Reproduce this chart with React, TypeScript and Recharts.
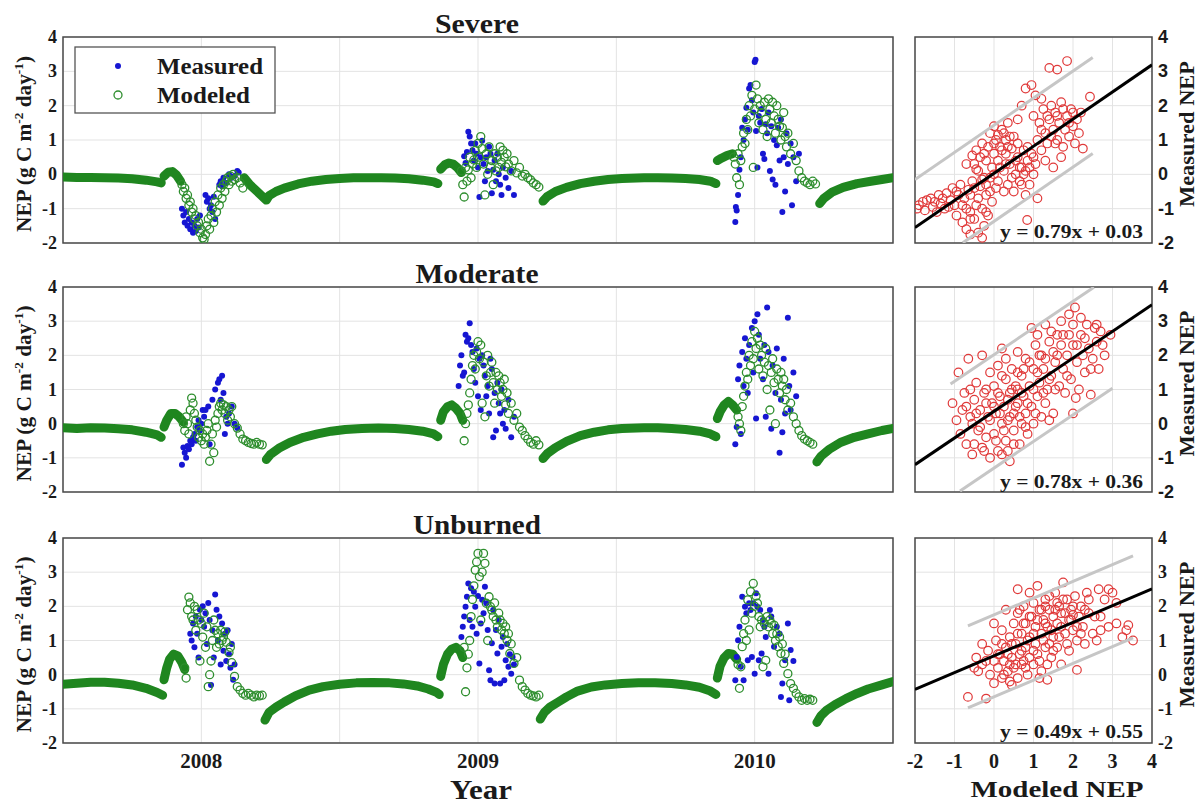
import React from 'react';
import { ScatterChart, Scatter, XAxis, YAxis, CartesianGrid, ReferenceArea } from 'recharts';

type P = [number, number];

// ---------- axes / labels ----------
const YEAR_TICKS = [2007.5, 2008, 2008.5, 2009, 2009.5, 2010, 2010.5];
const YEAR_LABELS = ['', '2008', '', '2009', '', '2010', ''];
const NEP_TICKS = [-2, -1, 0, 1, 2, 3, 4];
const SCAT_TICKS = [-2, -1, 0, 1, 2, 3, 4];
const PANEL_TITLES = ['Severe', 'Moderate', 'Unburned'];
const FIT_SLOPE = [0.79, 0.78, 0.49];
const FIT_INTERCEPT = [0.03, 0.36, 0.55];
const FIT_BAND = [1.4, 1.66, 1.2];
const BAND_UPPER_RANGE: P[] = [[-2, 2.5], [-1.1, 2.53], [-0.66, 3.52]];
const BAND_LOWER_RANGE: P[] = [[-0.79, 2.5], [-0.86, 3.0], [-0.66, 3.52]];

// ---------- Severe ----------
const severeBand: P[][] = [
  [[2007.5,-0.08],[2007.55,-0.09],[2007.6,-0.09],[2007.65,-0.1],[2007.7,-0.11],[2007.75,-0.13],[2007.8,-0.17],[2007.84,-0.22],[2007.855,-0.25]],
  [[2007.865,-0.05],[2007.88,0.06],[2007.895,0.08],[2007.91,-0.02],[2007.925,-0.2]],
  [[2008.155,-0.1],[2008.175,-0.3],[2008.195,-0.45],[2008.215,-0.6],[2008.235,-0.75],[2008.245,-0.62],[2008.27,-0.5],[2008.3,-0.4],[2008.35,-0.28],[2008.4,-0.2],[2008.45,-0.15],[2008.5,-0.12],[2008.55,-0.1],[2008.6,-0.1],[2008.65,-0.1],[2008.7,-0.11],[2008.75,-0.13],[2008.8,-0.17],[2008.84,-0.22],[2008.855,-0.27]],
  [[2008.865,0.15],[2008.88,0.28],[2008.895,0.33],[2008.91,0.3],[2008.925,0.2],[2008.94,0.05]],
  [[2009.235,-0.78],[2009.25,-0.65],[2009.28,-0.5],[2009.32,-0.38],[2009.37,-0.27],[2009.42,-0.2],[2009.47,-0.15],[2009.52,-0.12],[2009.6,-0.1],[2009.65,-0.1],[2009.7,-0.11],[2009.75,-0.12],[2009.8,-0.15],[2009.84,-0.2],[2009.86,-0.27]],
  [[2009.865,0.4],[2009.88,0.47],[2009.9,0.55],[2009.92,0.6]],
  [[2010.235,-0.85],[2010.25,-0.7],[2010.28,-0.52],[2010.32,-0.38],[2010.37,-0.27],[2010.42,-0.2],[2010.46,-0.15],[2010.5,-0.1]],
];
const severeModeled: P[] = [
  [2007.93,-0.3],[2007.935,-0.5],[2007.94,-0.4],[2007.945,-0.7],[2007.95,-0.6],[2007.955,-0.9],[2007.96,-0.8],[2007.965,-1.1],[2007.97,-1.0],[2007.975,-1.3],[2007.98,-1.2],[2007.985,-1.5],[2007.99,-1.4],[2007.995,-1.7],[2008.0,-1.6],[2008.005,-1.85],[2008.01,-1.9],[2008.015,-1.75],[2008.02,-1.5],[2008.025,-1.3],[2008.03,-1.6],[2008.035,-1.2],[2008.04,-1.0],[2008.045,-1.4],[2008.05,-0.8],[2008.055,-1.1],[2008.06,-0.6],[2008.065,-0.9],[2008.07,-0.4],[2008.075,-0.7],[2008.08,-0.3],[2008.085,-0.5],[2008.09,-0.2],[2008.095,-0.1],[2008.1,-0.3],[2008.105,-0.05],[2008.11,-0.2],[2008.115,0.0],[2008.12,-0.15],[2008.13,-0.1],[2008.14,-0.25],[2008.15,-0.4],
  [2008.94,0.1],[2008.945,-0.3],[2008.95,-0.66],[2008.955,0.2],[2008.96,-0.2],[2008.965,0.13],[2008.97,0.5],[2008.975,-0.1],[2008.98,0.3],[2008.985,0.42],[2008.99,0.7],[2008.995,0.2],[2009.0,0.9],[2009.005,0.5],[2009.01,1.1],[2009.015,0.75],[2009.02,0.3],[2009.025,-0.6],[2009.03,0.6],[2009.035,0.0],[2009.04,0.8],[2009.045,0.22],[2009.05,0.4],[2009.055,-0.3],[2009.06,0.6],[2009.065,0.1],[2009.07,0.5],[2009.075,0.2],[2009.08,0.8],[2009.085,0.35],[2009.09,0.7],[2009.095,0.5],[2009.1,0.22],[2009.105,0.6],[2009.11,0.3],[2009.12,0.1],[2009.13,0.4],[2009.14,0.04],[2009.15,0.2],[2009.16,-0.05],[2009.17,0.0],[2009.18,-0.1],[2009.19,-0.16],[2009.2,-0.25],[2009.21,-0.3],[2009.22,-0.37],
  [2009.925,0.5],[2009.93,0.3],[2009.935,-0.1],[2009.94,0.6],[2009.945,-0.3],[2009.95,0.4],[2009.955,0.8],[2009.96,1.2],[2009.965,0.9],[2009.97,1.6],[2009.975,1.3],[2009.98,2.0],[2009.985,1.7],[2009.99,2.3],[2009.995,0.2],[2010.0,1.9],[2010.005,2.6],[2010.01,2.2],[2010.015,1.5],[2010.02,2.0],[2010.025,1.8],[2010.03,1.3],[2010.035,2.1],[2010.04,1.6],[2010.045,1.1],[2010.05,2.2],[2010.055,1.9],[2010.06,1.5],[2010.065,2.1],[2010.07,1.7],[2010.075,1.2],[2010.08,2.0],[2010.085,1.6],[2010.09,1.4],[2010.095,1.0],[2010.1,1.36],[2010.105,1.8],[2010.11,1.1],[2010.115,0.8],[2010.12,1.2],[2010.13,0.6],[2010.14,0.9],[2010.15,0.4],[2010.16,0.1],[2010.17,-0.1],[2010.18,-0.2],[2010.19,-0.25],[2010.2,-0.3],[2010.21,-0.2],[2010.22,-0.28],
];
const severeMeasured: P[] = [
  [2007.93,-1.0],[2007.935,-1.2],[2007.94,-1.4],[2007.945,-1.1],[2007.95,-1.5],[2007.955,-1.3],[2007.96,-1.6],[2007.965,-1.4],[2007.97,-1.7],[2007.975,-1.5],[2007.98,-1.65],[2007.985,-1.3],[2007.99,-1.55],[2007.995,-1.2],[2008.015,-0.6],[2008.02,-0.8],[2008.025,-0.7],[2008.03,-1.0],[2008.035,-0.9],[2008.04,-1.1],[2008.045,-0.65],[2008.05,-1.3],[2008.065,-0.3],[2008.07,-0.2],[2008.075,-0.35],[2008.08,-0.1],[2008.09,-0.25],[2008.1,0.0],[2008.11,-0.1],[2008.12,-0.05],[2008.13,0.1],[2008.135,0.05],
  [2008.95,0.53],[2008.955,0.33],[2008.96,0.65],[2008.965,1.24],[2008.97,1.1],[2008.975,0.9],[2008.98,0.7],[2008.985,0.4],[2008.99,0.9],[2008.995,0.6],[2009.0,0.2],[2009.005,-0.66],[2009.01,0.5],[2009.015,0.98],[2009.02,0.3],[2009.025,-0.2],[2009.03,0.5],[2009.035,0.1],[2009.04,0.8],[2009.045,0.6],[2009.05,-0.55],[2009.055,0.13],[2009.06,0.4],[2009.065,-0.2],[2009.07,0.6],[2009.075,0.0],[2009.08,-0.3],[2009.085,-0.6],[2009.09,0.2],[2009.1,-0.1],[2009.11,-0.4],[2009.12,0.1],[2009.13,-0.6],
  [2009.93,-1.39],[2009.932,-0.95],[2009.935,-1.05],[2009.94,-0.6],[2009.945,0.13],[2009.95,0.5],[2009.955,1.36],[2009.96,1.0],[2009.965,1.6],[2009.97,1.94],[2009.975,1.3],[2009.98,2.5],[2009.985,2.6],[2009.99,2.16],[2009.995,1.8],[2010.0,3.27],[2010.003,3.34],[2010.005,1.26],[2010.01,0.2],[2010.015,1.7],[2010.02,1.5],[2010.025,1.9],[2010.03,0.6],[2010.035,0.45],[2010.04,1.46],[2010.045,1.2],[2010.05,1.8],[2010.055,0.1],[2010.06,1.4],[2010.065,-0.15],[2010.07,1.0],[2010.075,-0.3],[2010.08,0.85],[2010.085,1.36],[2010.09,0.4],[2010.095,1.6],[2010.1,-1.1],[2010.105,0.5],[2010.11,-0.5],[2010.115,1.2],[2010.12,0.3],[2010.13,0.9],[2010.135,-0.9],[2010.14,0.5],[2010.15,-0.2],[2010.16,0.6],
];

// ---------- Moderate ----------
const moderateBand: P[][] = [
  [[2007.5,-0.12],[2007.55,-0.14],[2007.6,-0.12],[2007.65,-0.13],[2007.7,-0.15],[2007.75,-0.18],[2007.8,-0.25],[2007.84,-0.33],[2007.855,-0.4]],
  [[2007.865,-0.1],[2007.875,0.1],[2007.89,0.3],[2007.905,0.3],[2007.92,0.2],[2007.935,0.05]],
  [[2008.235,-1.05],[2008.25,-0.9],[2008.28,-0.72],[2008.32,-0.55],[2008.37,-0.4],[2008.42,-0.3],[2008.47,-0.22],[2008.52,-0.17],[2008.58,-0.14],[2008.64,-0.13],[2008.7,-0.14],[2008.75,-0.17],[2008.8,-0.22],[2008.84,-0.3],[2008.855,-0.38]],
  [[2008.865,0.1],[2008.875,0.35],[2008.89,0.5],[2008.905,0.55],[2008.92,0.45],[2008.935,0.3],[2008.945,0.1]],
  [[2009.235,-1.02],[2009.25,-0.88],[2009.28,-0.7],[2009.32,-0.52],[2009.37,-0.35],[2009.42,-0.25],[2009.47,-0.18],[2009.52,-0.14],[2009.6,-0.12],[2009.65,-0.12],[2009.7,-0.14],[2009.75,-0.17],[2009.8,-0.22],[2009.84,-0.3],[2009.86,-0.38]],
  [[2009.865,0.15],[2009.875,0.35],[2009.89,0.55],[2009.905,0.65],[2009.92,0.55],[2009.935,0.4]],
  [[2010.225,-1.12],[2010.24,-0.95],[2010.27,-0.75],[2010.31,-0.55],[2010.36,-0.4],[2010.41,-0.3],[2010.46,-0.2],[2010.5,-0.14]],
];
const moderateModeled: P[] = [
  [2007.935,0.0],[2007.94,-0.2],[2007.945,0.2],[2007.95,0.0],[2007.955,-0.3],[2007.96,0.4],[2007.965,0.75],[2007.97,0.6],[2007.975,0.3],[2007.98,0.1],[2007.985,-0.1],[2007.99,-0.4],[2007.995,-0.2],[2008.0,-0.5],[2008.005,-0.3],[2008.01,-0.6],[2008.015,-0.4],[2008.02,-0.2],[2008.025,0.0],[2008.03,-1.1],[2008.035,-0.6],[2008.04,-0.3],[2008.045,-0.85],[2008.05,0.1],[2008.055,-0.1],[2008.06,0.3],[2008.065,0.5],[2008.07,0.6],[2008.075,0.4],[2008.08,0.55],[2008.085,0.3],[2008.09,0.5],[2008.095,0.1],[2008.1,0.4],[2008.105,0.2],[2008.11,0.5],[2008.12,0.0],[2008.13,-0.13],[2008.14,-0.3],[2008.15,-0.45],[2008.16,-0.5],[2008.17,-0.55],[2008.18,-0.58],[2008.19,-0.6],[2008.2,-0.55],[2008.21,-0.6],[2008.22,-0.62],
  [2008.95,-0.5],[2008.955,0.0],[2008.96,0.3],[2008.965,0.55],[2008.97,0.9],[2008.975,1.3],[2008.98,1.7],[2008.985,2.0],[2008.99,1.6],[2008.995,2.1],[2009.0,2.4],[2009.005,1.9],[2009.01,2.3],[2009.015,0.6],[2009.02,1.8],[2009.025,0.2],[2009.03,1.4],[2009.035,2.0],[2009.04,1.1],[2009.045,1.5],[2009.05,1.8],[2009.055,1.2],[2009.06,0.6],[2009.065,1.5],[2009.07,1.0],[2009.075,1.4],[2009.08,1.2],[2009.085,0.8],[2009.09,1.0],[2009.095,1.3],[2009.1,0.55],[2009.105,0.9],[2009.11,0.3],[2009.12,0.6],[2009.13,0.1],[2009.14,0.3],[2009.15,-0.1],[2009.16,-0.2],[2009.17,-0.35],[2009.18,-0.45],[2009.19,-0.55],[2009.2,-0.6],[2009.21,-0.5],[2009.22,-0.62],
  [2009.94,0.2],[2009.945,0.0],[2009.95,-0.2],[2009.955,0.5],[2009.96,0.8],[2009.965,1.1],[2009.97,1.5],[2009.975,1.3],[2009.98,2.0],[2009.985,1.7],[2009.99,2.4],[2009.995,1.9],[2010.0,2.7],[2010.005,2.2],[2010.01,2.5],[2010.015,1.6],[2010.02,2.3],[2010.025,2.0],[2010.03,1.4],[2010.035,1.8],[2010.04,2.2],[2010.045,1.0],[2010.05,1.7],[2010.055,0.4],[2010.06,1.5],[2010.065,1.9],[2010.07,1.2],[2010.075,0.0],[2010.08,1.6],[2010.085,1.3],[2010.09,0.9],[2010.095,1.5],[2010.1,1.1],[2010.105,1.3],[2010.11,0.7],[2010.115,1.0],[2010.12,0.4],[2010.13,0.6],[2010.14,0.2],[2010.15,0.0],[2010.16,-0.2],[2010.17,-0.35],[2010.18,-0.45],[2010.19,-0.5],[2010.2,-0.55],[2010.21,-0.6],
];
const moderateMeasured: P[] = [
  [2007.93,-1.2],[2007.935,-0.7],[2007.94,-0.85],[2007.945,-1.0],[2007.95,-0.65],[2007.955,-0.75],[2007.96,-0.5],[2007.965,-0.6],[2007.97,-0.4],[2007.975,-0.3],[2007.98,-0.5],[2007.985,-0.1],[2007.99,0.1],[2007.995,-0.2],[2008.0,0.0],[2008.005,0.4],[2008.01,0.2],[2008.015,0.4],[2008.025,0.5],[2008.03,-0.6],[2008.04,0.7],[2008.05,1.0],[2008.06,1.2],[2008.065,1.3],[2008.075,1.4],[2008.07,0.7],[2008.08,0.9],[2008.085,-0.3],[2008.09,0.2],[2008.095,0.0],[2008.1,0.3],[2008.11,0.5],[2008.12,0.0],[2008.13,-0.13],
  [2008.93,1.1],[2008.935,1.7],[2008.94,2.0],[2008.945,1.4],[2008.95,1.5],[2008.955,2.6],[2008.96,2.4],[2008.965,2.5],[2008.97,2.94],[2008.975,2.3],[2008.98,2.1],[2008.985,1.6],[2008.99,1.2],[2008.995,2.2],[2009.0,0.8],[2009.005,1.9],[2009.01,0.4],[2009.015,2.0],[2009.02,1.7],[2009.025,1.4],[2009.03,0.8],[2009.035,1.1],[2009.04,0.3],[2009.045,1.9],[2009.05,1.6],[2009.055,-0.4],[2009.06,0.9],[2009.065,-0.2],[2009.07,1.2],[2009.075,0.6],[2009.08,0.3],[2009.085,1.0],[2009.09,0.0],[2009.095,0.4],[2009.1,-0.15],[2009.11,0.7],[2009.12,-0.4],[2009.13,0.2],
  [2009.93,-0.6],[2009.935,-0.1],[2009.94,1.3],[2009.945,1.7],[2009.95,-0.3],[2009.955,2.1],[2009.96,1.1],[2009.965,2.5],[2009.97,1.9],[2009.975,0.9],[2009.98,2.3],[2009.99,2.8],[2009.995,1.5],[2010.0,3.0],[2010.005,0.15],[2010.01,3.2],[2010.015,2.6],[2010.02,1.9],[2010.03,1.3],[2010.035,2.3],[2010.04,0.2],[2010.045,3.4],[2010.05,2.1],[2010.06,-0.15],[2010.065,1.7],[2010.075,0.9],[2010.08,2.2],[2010.09,-0.85],[2010.095,0.7],[2010.1,-0.25],[2010.105,1.9],[2010.11,0.3],[2010.12,3.1],[2010.125,1.1],[2010.13,0.4],[2010.14,1.5],[2010.15,0.8],
];

// ---------- Unburned ----------
const unburnedBand: P[][] = [
  [[2007.5,-0.28],[2007.55,-0.25],[2007.6,-0.22],[2007.65,-0.22],[2007.7,-0.25],[2007.75,-0.3],[2007.8,-0.4],[2007.84,-0.52],[2007.86,-0.6]],
  [[2007.865,-0.15],[2007.875,0.2],[2007.885,0.45],[2007.9,0.6],[2007.915,0.55],[2007.93,0.35],[2007.94,0.15]],
  [[2008.23,-1.33],[2008.245,-1.1],[2008.27,-0.95],[2008.3,-0.8],[2008.34,-0.62],[2008.39,-0.45],[2008.44,-0.35],[2008.5,-0.28],[2008.56,-0.24],[2008.62,-0.23],[2008.68,-0.24],[2008.73,-0.27],[2008.78,-0.33],[2008.82,-0.42],[2008.85,-0.52],[2008.86,-0.58]],
  [[2008.865,-0.05],[2008.875,0.3],[2008.89,0.6],[2008.905,0.75],[2008.92,0.8],[2008.935,0.7],[2008.945,0.5]],
  [[2009.225,-1.3],[2009.24,-1.1],[2009.26,-0.95],[2009.29,-0.8],[2009.32,-0.65],[2009.36,-0.48],[2009.41,-0.36],[2009.46,-0.3],[2009.52,-0.26],[2009.58,-0.24],[2009.64,-0.24],[2009.7,-0.26],[2009.75,-0.3],[2009.8,-0.37],[2009.84,-0.48],[2009.86,-0.58]],
  [[2009.865,-0.1],[2009.875,0.25],[2009.89,0.5],[2009.905,0.62],[2009.92,0.6],[2009.935,0.45]],
  [[2010.225,-1.4],[2010.24,-1.2],[2010.26,-1.04],[2010.29,-0.88],[2010.33,-0.7],[2010.37,-0.55],[2010.41,-0.42],[2010.46,-0.3],[2010.5,-0.2]],
];
const unburnedModeled: P[] = [
  [2007.94,0.2],[2007.945,-0.1],[2007.95,1.9],[2007.955,2.27],[2007.96,2.1],[2007.965,1.7],[2007.97,1.6],[2007.975,2.0],[2007.98,1.3],[2007.985,1.9],[2007.99,1.6],[2007.995,0.4],[2008.0,1.5],[2008.005,1.1],[2008.01,1.8],[2008.015,0.8],[2008.02,1.4],[2008.025,-0.35],[2008.03,0.0],[2008.035,0.4],[2008.04,1.0],[2008.045,1.6],[2008.05,1.3],[2008.055,0.8],[2008.06,1.2],[2008.065,0.9],[2008.07,1.3],[2008.075,1.0],[2008.08,1.1],[2008.085,1.25],[2008.09,0.95],[2008.1,0.65],[2008.105,0.8],[2008.11,0.35],[2008.12,-0.05],[2008.13,-0.35],[2008.14,-0.45],[2008.15,-0.55],[2008.16,-0.6],[2008.17,-0.55],[2008.18,-0.6],[2008.19,-0.65],[2008.2,-0.6],[2008.21,-0.62],[2008.22,-0.6],
  [2008.95,0.8],[2008.955,-0.5],[2008.96,0.2],[2008.965,0.6],[2008.97,1.0],[2008.975,1.7],[2008.98,2.2],[2008.985,2.6],[2008.99,3.06],[2008.995,3.3],[2009.0,3.55],[2009.005,2.87],[2009.01,1.6],[2009.015,3.0],[2009.02,3.55],[2009.025,3.26],[2009.03,2.09],[2009.035,1.0],[2009.04,2.28],[2009.045,1.99],[2009.05,1.89],[2009.055,1.7],[2009.06,2.1],[2009.065,1.6],[2009.07,1.4],[2009.075,1.8],[2009.08,1.6],[2009.085,1.31],[2009.09,1.5],[2009.095,1.2],[2009.1,1.4],[2009.105,1.01],[2009.11,1.2],[2009.115,0.62],[2009.12,0.9],[2009.13,0.33],[2009.14,0.5],[2009.15,-0.16],[2009.16,-0.35],[2009.17,-0.45],[2009.18,-0.55],[2009.19,-0.6],[2009.2,-0.62],[2009.21,-0.65],[2009.22,-0.6],
  [2009.94,0.3],[2009.945,-0.4],[2009.95,0.23],[2009.955,0.82],[2009.96,1.2],[2009.965,1.6],[2009.97,1.0],[2009.975,2.19],[2009.98,1.31],[2009.985,2.43],[2009.99,1.8],[2009.995,2.67],[2010.0,2.0],[2010.005,2.3],[2010.01,2.09],[2010.015,1.7],[2010.02,1.4],[2010.025,1.6],[2010.03,0.23],[2010.035,1.5],[2010.04,0.42],[2010.045,1.7],[2010.05,1.4],[2010.055,1.6],[2010.06,1.5],[2010.065,1.2],[2010.07,1.45],[2010.075,1.0],[2010.08,1.2],[2010.085,0.82],[2010.09,1.1],[2010.095,0.62],[2010.1,0.9],[2010.105,0.33],[2010.11,0.6],[2010.12,0.03],[2010.13,-0.26],[2010.14,-0.4],[2010.15,-0.55],[2010.16,-0.65],[2010.17,-0.75],[2010.18,-0.7],[2010.19,-0.75],[2010.2,-0.72],[2010.21,-0.75],
];
const unburnedMeasured: P[] = [
  [2007.96,1.2],[2007.965,1.0],[2007.97,1.5],[2007.975,0.8],[2007.98,1.7],[2007.985,1.2],[2007.99,0.5],[2007.995,1.9],[2008.0,1.6],[2008.005,2.0],[2008.01,1.4],[2008.015,1.8],[2008.02,0.9],[2008.025,2.1],[2008.03,1.6],[2008.035,-0.3],[2008.04,1.3],[2008.045,0.5],[2008.05,2.35],[2008.055,1.9],[2008.06,1.0],[2008.065,1.7],[2008.07,0.3],[2008.075,1.5],[2008.08,0.7],[2008.085,1.2],[2008.09,0.4],[2008.095,1.3],[2008.1,0.6],[2008.105,0.2],[2008.11,0.9],[2008.115,-0.15],[2008.12,0.3],
  [2008.94,1.1],[2008.945,1.4],[2008.95,1.7],[2008.955,1.99],[2008.96,2.28],[2008.965,2.67],[2008.97,1.6],[2008.975,2.53],[2008.98,1.4],[2008.985,2.43],[2008.99,1.99],[2008.995,1.2],[2009.0,2.3],[2009.005,0.33],[2009.01,1.5],[2009.015,2.19],[2009.02,1.8],[2009.025,2.57],[2009.03,2.09],[2009.035,1.31],[2009.04,0.13],[2009.045,-0.16],[2009.05,0.92],[2009.055,1.89],[2009.06,-0.26],[2009.065,1.31],[2009.07,0.62],[2009.075,1.6],[2009.08,-0.26],[2009.085,0.82],[2009.09,1.1],[2009.095,-0.16],[2009.1,0.42],[2009.105,0.9],[2009.11,0.23],[2009.115,0.6],[2009.12,0.03],[2009.125,0.52],[2009.13,0.3],
  [2009.93,-0.16],[2009.935,0.52],[2009.94,1.01],[2009.945,1.4],[2009.95,0.23],[2009.955,2.28],[2009.96,-0.16],[2009.965,1.99],[2009.97,1.8],[2009.975,0.42],[2009.98,2.09],[2009.985,1.89],[2009.99,0.52],[2009.995,2.09],[2010.0,0.03],[2010.005,2.38],[2010.01,1.99],[2010.015,0.42],[2010.02,1.89],[2010.025,0.62],[2010.03,1.6],[2010.035,1.4],[2010.04,1.1],[2010.05,0.03],[2010.055,1.89],[2010.06,1.7],[2010.07,0.82],[2010.08,1.4],[2010.09,1.2],[2010.095,-0.65],[2010.1,-0.26],[2010.11,0.42],[2010.12,1.5],[2010.125,-0.75],[2010.13,0.72],[2010.14,0.4],
];

// ---------- Modeled vs measured scatter ----------
const severeScatter: P[] = [
  [-1.95,-1.0],[-1.8,-0.8],[-1.75,-1.05],[-1.6,-0.7],[-1.55,-0.95],[-1.45,-1.1],[-1.4,-0.6],[-1.35,-0.85],[-1.25,-1.0],[-1.2,-0.55],[-1.1,-0.75],[-1.05,-0.4],[-1.0,-0.9],[-0.95,-1.2],[-0.9,-0.6],[-0.85,-0.3],[-0.8,-1.4],[-0.75,-0.7],[-0.7,-1.6],[-0.65,-0.45],[-0.6,-1.1],[-0.55,-0.2],[-0.5,-1.3],[-0.45,-0.9],[-0.4,-1.7],[-0.35,-0.35],[-0.3,-1.0],[-0.25,-1.5],[-0.2,-0.6],[-0.15,-1.2],[-0.1,-0.1],[-0.05,-0.8],[-0.3,-1.85],[-0.6,-1.75],
  [-0.5,0.3],[-0.45,0.7],[-0.4,0.1],[-0.35,0.5],[-0.3,0.9],[-0.25,-0.1],[-0.2,0.4],[-0.15,0.8],[-0.1,1.2],[-0.05,0.2],[0.0,0.6],[0.05,1.0],[0.1,-0.2],[0.1,0.4],[0.15,0.8],[0.2,1.3],[0.25,0.1],[0.3,0.6],[0.3,1.0],[0.35,-0.3],[0.4,0.3],[0.45,0.75],[0.5,1.1],[0.5,-0.5],[0.55,0.0],[0.6,0.5],[0.65,-0.2],[0.7,0.2],[0.75,0.7],[0.8,-0.6],[0.8,0.1],[0.85,0.4],[0.9,-0.3],[0.95,0.6],[1.0,0.0],[1.05,0.3],[1.1,-0.7],[0.84,-1.33],[-0.55,0.55],[-0.7,0.3],[0.0,1.4],[0.35,1.5],
  [0.7,2.0],[0.8,2.5],[0.95,2.6],[1.05,2.3],[1.0,1.7],[0.6,1.6],[1.4,3.1],[1.6,3.05],[1.85,3.3],
  [1.1,1.0],[1.15,1.5],[1.2,0.7],[1.25,1.9],[1.3,1.2],[1.35,0.9],[1.4,1.6],[1.45,2.0],[1.5,0.2],[1.5,1.3],[1.55,1.8],[1.6,1.0],[1.65,1.5],[1.7,2.1],[1.75,0.8],[1.8,1.3],[1.85,1.7],[1.9,1.1],[1.95,1.9],[2.0,1.4],[2.05,0.9],[2.1,1.6],[2.15,1.2],[2.2,1.8],[2.25,0.75],[2.43,2.26],[1.3,0.4],[1.7,0.5],[1.2,2.2],
  [-1.9,-0.9],[-1.7,-0.75],[-1.5,-0.8],[-1.3,-0.7],[-1.15,-0.95],[-0.95,-0.5],[-0.8,-0.9],[-0.6,-0.6],[-0.5,-0.4],[-0.4,-0.7],[-0.3,-0.15],[-0.2,-0.3],[-0.1,-0.5],[0.0,0.0],[0.0,0.9],[0.05,-0.4],[0.15,0.2],[0.2,0.7],[0.25,-0.5],[0.3,0.3],[0.35,0.8],[0.4,1.1],[0.45,-0.1],[0.55,0.4],[0.6,0.9],[0.65,0.2],[0.7,-0.3],[0.75,0.0],[0.85,0.8],[0.9,0.2],[1.0,0.5],[1.2,1.3],[1.35,1.7],[1.45,1.1],[1.6,1.7],[1.75,1.9],[1.9,1.5],[2.0,1.8],[1.55,0.9],[-0.25,0.6],[-0.45,0.15],[0.1,1.15],[0.25,1.2],[-0.6,-1.3],[-0.2,-1.1],[-0.7,-1.0],
];
const moderateScatter: P[] = [
  [-1.05,0.6],[-0.95,0.1],[-0.9,1.5],[-0.85,-0.3],[-0.8,0.4],[-0.75,0.9],[-0.7,-0.6],[-0.65,1.9],[-0.6,0.2],[-0.55,-0.9],[-0.5,0.7],[-0.45,1.2],[-0.4,-0.2],[-0.35,0.4],[-0.3,-0.7],[-0.3,2.0],[-0.25,0.9],[-0.2,-0.4],[-0.15,0.2],[-0.1,1.5],[-0.1,-1.0],[-0.05,0.6],[0.0,-0.3],[0.0,1.1],[0.05,0.3],[0.1,-0.8],[0.1,1.7],[0.15,0.8],[0.2,0.0],[0.2,2.2],[0.25,0.5],[0.3,-0.5],[0.3,1.3],[0.35,0.1],[0.4,0.9],[0.4,-1.1],[0.45,1.6],[0.5,0.3],[0.5,-0.2],[0.55,1.1],[0.6,0.6],[0.6,2.1],[0.65,-0.6],[0.7,0.0],[0.7,1.4],[0.75,0.8],[0.8,0.3],[0.8,1.9],[0.85,-0.3],[0.9,1.1],[0.95,0.5],[0.95,2.8],[1.0,0.0],[1.0,1.6],[1.05,2.3],[1.1,0.8],[1.1,2.6],[1.15,1.2],[1.2,0.2],[1.2,2.0],[1.25,1.6],[1.3,2.9],[1.3,0.6],[1.35,1.0],[1.4,2.4],[1.45,1.4],[1.5,2.1],[1.5,0.3],[1.55,1.8],[1.6,2.6],[1.65,1.1],[1.7,2.3],[1.7,3.0],[1.75,1.6],[1.8,0.9],[1.85,2.0],[1.9,2.6],[1.9,3.2],[1.95,1.3],[2.0,2.3],[2.05,3.4],[2.1,1.8],[2.15,1.0],[2.2,2.6],[2.25,2.0],[2.3,1.5],[2.35,2.9],[2.4,2.2],[2.45,0.85],[2.5,1.9],[2.55,2.8],[2.6,2.4],[2.65,1.6],[2.7,2.7],[2.8,2.0],[2.95,2.6],[1.4,0.1],[2.0,0.3],[-0.2,1.0],[0.3,1.9],[0.6,1.0],[0.2,-0.9],[-0.5,-0.6],[2.2,3.1],[2.07,0.75],
  [-0.7,0.5],[-0.55,0.0],[-0.45,0.3],[-0.35,-0.1],[-0.2,0.6],[-0.1,0.1],[0.0,0.5],[0.05,-0.5],[0.1,0.9],[0.15,0.3],[0.2,1.4],[0.25,-0.2],[0.35,0.7],[0.4,0.2],[0.45,1.0],[0.5,-0.6],[0.55,0.5],[0.65,0.2],[0.7,0.9],[0.75,1.6],[0.8,-0.1],[0.85,0.6],[0.9,1.8],[1.0,1.0],[1.05,0.3],[1.1,1.5],[1.15,2.0],[1.25,0.9],[1.3,1.9],[1.4,1.3],[1.45,2.7],[1.55,1.0],[1.6,2.0],[1.75,2.6],[1.85,1.4],[2.0,2.9],[2.1,2.3],[2.3,2.5],[2.45,1.6],[2.6,2.9],[2.75,2.3],[-0.6,1.0],[0.6,1.5],[0.35,-0.8],[-0.25,-0.8],
];
const unburnedScatter: P[] = [
  [-0.66,-0.65],[-0.45,0.5],[-0.4,0.1],[-0.3,0.3],[-0.2,-0.7],[-0.15,0.7],[-0.1,0.0],[0.0,0.4],[0.0,-0.25],[0.05,1.0],[0.1,0.2],[0.15,0.6],[0.2,-0.1],[0.2,1.3],[0.25,0.4],[0.3,0.8],[0.3,1.9],[0.35,0.1],[0.4,1.1],[0.4,-0.2],[0.45,0.5],[0.5,1.5],[0.5,0.2],[0.55,0.9],[0.6,-0.1],[0.6,1.8],[0.65,0.6],[0.7,1.2],[0.7,0.3],[0.75,2.0],[0.8,0.8],[0.8,1.5],[0.85,0.0],[0.9,1.1],[0.9,0.5],[0.95,1.7],[1.0,0.3],[1.0,2.1],[1.05,0.9],[1.05,1.4],[1.1,2.6],[1.1,0.6],[1.15,1.9],[1.2,1.2],[1.2,0.1],[1.25,1.6],[1.3,0.8],[1.3,2.2],[1.35,-0.15],[1.35,1.4],[1.4,1.9],[1.45,0.5],[1.5,1.7],[1.5,1.1],[1.55,2.4],[1.6,0.8],[1.6,1.5],[1.65,2.0],[1.7,0.3],[1.7,1.8],[1.75,2.7],[1.8,1.2],[1.85,2.2],[1.9,0.7],[1.9,1.6],[1.95,1.9],[2.0,1.3],[2.05,2.3],[2.1,1.0],[2.1,0.14],[2.15,1.7],[2.2,2.0],[2.25,1.4],[2.3,0.9],[2.35,2.4],[2.4,1.8],[2.5,1.2],[2.6,1.0],[2.65,2.5],[2.7,1.7],[2.8,2.2],[2.9,1.4],[3.0,2.4],[3.1,1.5],[3.25,1.1],[3.35,1.3],[3.52,1.0],[3.4,1.45],[0.6,2.5],[1.3,2.0],[0.0,1.5],[-0.3,0.9],[0.9,2.4],[1.15,-0.1],[0.45,-0.3],[0.2,0.9],[1.65,1.1],[2.0,1.75],[1.4,0.9],[0.75,0.4],
  [-0.5,0.2],[-0.2,0.4],[0.1,0.6],[0.25,0.0],[0.35,0.6],[0.45,0.9],[0.55,0.3],[0.6,1.2],[0.7,0.7],[0.75,1.5],[0.8,0.2],[0.85,1.0],[0.9,1.7],[1.0,0.7],[1.0,1.2],[1.1,1.6],[1.15,0.4],[1.2,1.9],[1.25,1.0],[1.3,1.5],[1.4,2.3],[1.45,1.3],[1.5,0.7],[1.55,1.9],[1.6,2.1],[1.7,1.4],[1.75,2.2],[1.8,1.8],[1.85,0.9],[1.95,1.6],[2.0,2.0],[2.1,1.4],[2.2,1.2],[2.3,1.9],[2.4,2.2],[2.55,1.7],[2.7,1.3],[2.9,2.5],[3.1,2.1],[0.4,0.3],[0.65,1.9],[1.35,0.3],
];

// ---------- styling ----------
const SERIF = '"Liberation Serif", "Times New Roman", serif';
const SANS = '"Liberation Sans", Arial, sans-serif';
const INK = '#1a1a1a';
const GRID = '#e3e3e3';
const BOX = '#4a4a4a';
const GREEN_BAND = '#1f861f';
const GREEN_CIRCLE = '#2e8e2e';
const BLUE = '#1616d2';
const RED = '#e03a3a';
const PAD = 15;

const toXY = (a: P[]) => a.map(([x, y]) => ({ x, y }));

const Empty = () => <g />;
const BlueDot = (p: any) => <circle cx={p.cx} cy={p.cy} r={3} fill={BLUE} />;
const GreenCircle = (p: any) => (
  <circle cx={p.cx} cy={p.cy} r={4} fill="none" stroke={GREEN_CIRCLE} strokeWidth={1.3} />
);
const RedCircle = (p: any) => (
  <circle cx={p.cx} cy={p.cy} r={4.3} fill="none" stroke={RED} strokeWidth={1.2} />
);

const makeYearTick = (show: boolean) => (p: any) => {
  const i = YEAR_TICKS.indexOf(p.payload.value);
  const label = show ? YEAR_LABELS[i] || '' : '';
  return (
    <text x={p.x} y={p.y} dy={15} textAnchor="middle" fontFamily={SERIF} fontWeight={700} fontSize={21} fill={INK}>
      {label}
    </text>
  );
};
const LeftTick = (p: any) => (
  <text x={p.x} y={p.y} dy={6} textAnchor="end" fontFamily={SERIF} fontWeight={700} fontSize={18} fill={INK}>
    {p.payload.value}
  </text>
);
const makeRightTick = (sans: boolean) => (p: any) => (
  <text x={p.x} y={p.y} dy={6} textAnchor="start" fontFamily={sans ? SANS : SERIF} fontWeight={700} fontSize={18} fill={INK}>
    {p.payload.value}
  </text>
);
const makeScatXTick = (show: boolean) => (p: any) => (
  <text x={p.x} y={p.y} dy={15} textAnchor="middle" fontFamily={SERIF} fontWeight={700} fontSize={20} fill={INK}>
    {show ? p.payload.value : ''}
  </text>
);

function TimePanel({ top, h, band, modeled, measured, showX }: any) {
  return (
    <div style={{ position: 'absolute', left: 0, top: top - PAD }}>
      <ScatterChart width={900} height={h + PAD + 32} margin={{ top: PAD, right: 7, left: 0, bottom: 2 }}>
        <CartesianGrid stroke={GRID} strokeWidth={1} />
        <XAxis type="number" dataKey="x" domain={[2007.5, 2010.5]} ticks={YEAR_TICKS} interval={0}
          allowDataOverflow axisLine={false} tickLine={false} tickSize={0} tickMargin={10} height={30}
          tick={makeYearTick(showX)} />
        <YAxis type="number" dataKey="y" domain={[-2, 4]} ticks={NEP_TICKS} interval={0}
          allowDataOverflow axisLine={false} tickLine={false} tickSize={0} tickMargin={6} width={63}
          tick={LeftTick} />
        {band.map((seg: P[], i: number) => (
          <Scatter key={'band' + i} data={toXY(seg)} shape={Empty} isAnimationActive={false}
            line={{ stroke: GREEN_BAND, strokeWidth: 9, fill: 'none', strokeLinecap: 'round', strokeLinejoin: 'round' }}
            lineType="joint" />
        ))}
        <Scatter data={toXY(measured)} shape={BlueDot} isAnimationActive={false} />
        <Scatter data={toXY(modeled)} shape={GreenCircle} isAnimationActive={false} />
        <ReferenceArea x1={2007.5} x2={2010.5} y1={-2} y2={4} fill="none" fillOpacity={0} stroke={BOX} strokeWidth={1.5} />
      </ScatterChart>
    </div>
  );
}

function FitPanel({ top, h, pts, idx, showX, sans }: any) {
  const s = FIT_SLOPE[idx];
  const b = FIT_INTERCEPT[idx];
  const d = FIT_BAND[idx];
  const fit = [SCAT_TICKS[0], SCAT_TICKS[SCAT_TICKS.length - 1]].map((x) => ({ x, y: s * x + b }));
  const up = BAND_UPPER_RANGE[idx].map((x) => ({ x, y: s * x + b + d }));
  const lo = BAND_LOWER_RANGE[idx].map((x) => ({ x, y: s * x + b - d }));
  return (
    <div style={{ position: 'absolute', left: 905, top: top - PAD }}>
      <ScatterChart width={295} height={h + PAD + 32} margin={{ top: PAD, right: 0, left: 10, bottom: 2 }}>
        <CartesianGrid stroke={GRID} strokeWidth={1} />
        <XAxis type="number" dataKey="x" domain={[-2, 4]} ticks={SCAT_TICKS} interval={0}
          allowDataOverflow axisLine={false} tickLine={false} tickSize={0} tickMargin={10} height={30}
          tick={makeScatXTick(showX)} />
        <YAxis type="number" dataKey="y" orientation="right" domain={[-2, 4]} ticks={SCAT_TICKS} interval={0}
          allowDataOverflow axisLine={false} tickLine={false} tickSize={0} tickMargin={6} width={48}
          tick={makeRightTick(sans)} />
        <Scatter data={toXY(pts)} shape={RedCircle} isAnimationActive={false} />
        <Scatter data={up} shape={Empty} isAnimationActive={false} line={{ stroke: '#c6c6c6', strokeWidth: 3, fill: 'none' }} lineType="joint" />
        <Scatter data={lo} shape={Empty} isAnimationActive={false} line={{ stroke: '#c6c6c6', strokeWidth: 3, fill: 'none' }} lineType="joint" />
        <Scatter data={fit} shape={Empty} isAnimationActive={false} line={{ stroke: '#000', strokeWidth: 3, fill: 'none' }} lineType="joint" />
        <ReferenceArea x1={-2} x2={4} y1={-2} y2={4} fill="none" fillOpacity={0} stroke={BOX} strokeWidth={1.5} />
      </ScatterChart>
    </div>
  );
}

const ROWS = [
  { top: 37, h: 206, band: severeBand, modeled: severeModeled, measured: severeMeasured, scatter: severeScatter, eqY: 238, sans: true },
  { top: 287, h: 205, band: moderateBand, modeled: moderateModeled, measured: moderateMeasured, scatter: moderateScatter, eqY: 488, sans: true },
  { top: 538, h: 205, band: unburnedBand, modeled: unburnedModeled, measured: unburnedMeasured, scatter: unburnedScatter, eqY: 738, sans: false },
];

const fmt = (v: number) => v.toFixed(2);

export default function App() {
  const txt = { fontFamily: SERIF, fontWeight: 700, fill: INK } as any;
  return (
    <div style={{ position: 'absolute', left: 0, top: 0, width: 1202, height: 804, background: '#fff', overflow: 'hidden' }}>
      {ROWS.map((r, i) => (
        <TimePanel key={'t' + i} top={r.top} h={r.h} band={r.band} modeled={r.modeled} measured={r.measured} showX={i === 2} />
      ))}
      {ROWS.map((r, i) => (
        <FitPanel key={'f' + i} top={r.top} h={r.h} pts={r.scatter} idx={i} showX={i === 2} sans={r.sans} />
      ))}
      <svg width={1202} height={804} style={{ position: 'absolute', left: 0, top: 0, pointerEvents: 'none' }}>
        {ROWS.map((r, i) => (
          <g key={'o' + i}>
            <text x={477} y={r.top - 4} textAnchor="middle" fontSize={27} textLength={[84, 123, 128][i]} lengthAdjust="spacingAndGlyphs" {...txt}>
              {PANEL_TITLES[i]}
            </text>
            <text transform={`translate(31, ${r.top + r.h / 2 + 4}) rotate(-90)`} textAnchor="middle" fontSize={21} textLength={176} lengthAdjust="spacingAndGlyphs" {...txt}>
              NEP (g C m<tspan dy={-8} fontSize={13}>-2</tspan><tspan dy={8}> day</tspan><tspan dy={-8} fontSize={13}>-1</tspan><tspan dy={8}>)</tspan>
            </text>
            <text transform={`translate(1194, ${r.top + r.h / 2 - 6}) rotate(-90)`} textAnchor="middle" fontSize={20} textLength={146} lengthAdjust="spacingAndGlyphs" {...txt}>
              Measured NEP
            </text>
            <text x={1000} y={r.eqY} fontSize={19} textLength={143} lengthAdjust="spacingAndGlyphs" {...txt}>
              {`y = ${fmt(FIT_SLOPE[i])}x + ${fmt(FIT_INTERCEPT[i])}`}
            </text>
          </g>
        ))}
        <rect x={75} y={47} width={200} height={66} fill="#fff" stroke="#555" strokeWidth={1.3} />
        <circle cx={118} cy={66} r={3} fill={BLUE} />
        <circle cx={118} cy={95} r={4} fill="none" stroke={GREEN_CIRCLE} strokeWidth={1.3} />
        <text x={157} y={74} fontSize={24} textLength={106} lengthAdjust="spacingAndGlyphs" {...txt}>Measured</text>
        <text x={157} y={103} fontSize={24} textLength={93} lengthAdjust="spacingAndGlyphs" {...txt}>Modeled</text>
        <text x={481} y={799} textAnchor="middle" fontSize={27} textLength={62} lengthAdjust="spacingAndGlyphs" {...txt}>Year</text>
        <text x={1057} y={797} textAnchor="middle" fontSize={24} textLength={173} lengthAdjust="spacingAndGlyphs" {...txt}>Modeled NEP</text>
      </svg>
    </div>
  );
}
